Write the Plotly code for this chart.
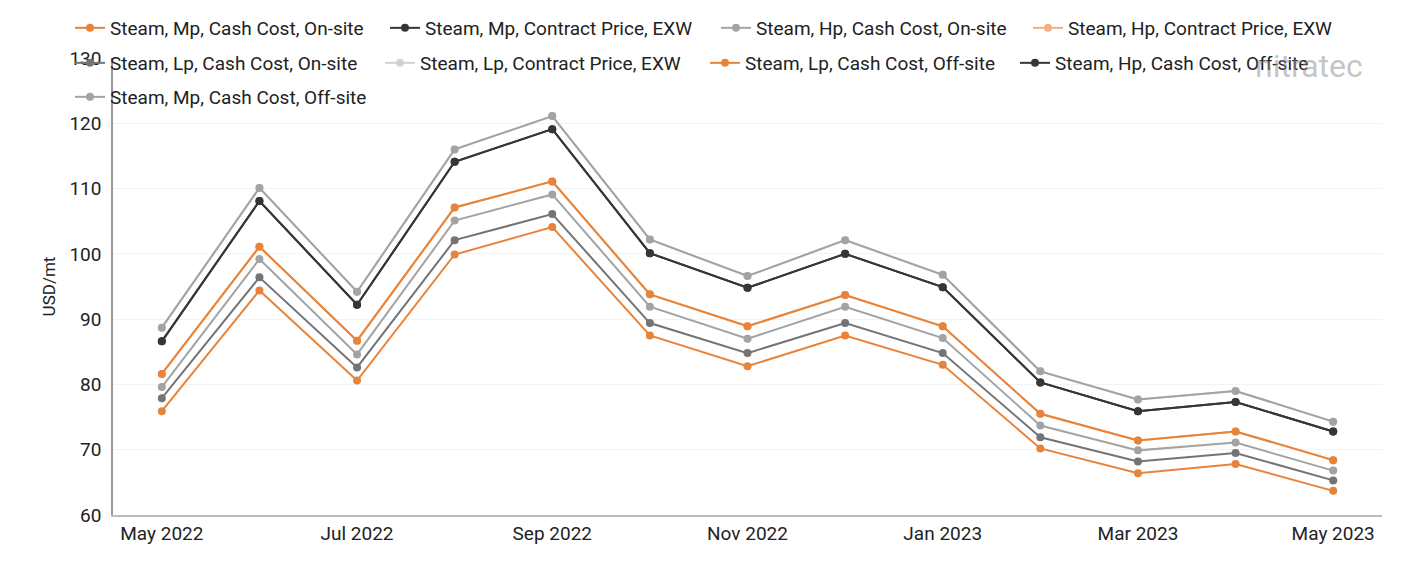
import plotly.graph_objects as go

months = ["May 2022", "Jun 2022", "Jul 2022", "Aug 2022", "Sep 2022", "Oct 2022",
          "Nov 2022", "Dec 2022", "Jan 2023", "Feb 2023", "Mar 2023", "Apr 2023", "May 2023"]
tick_labels = ["May 2022", "Jul 2022", "Sep 2022", "Nov 2022", "Jan 2023", "Mar 2023", "May 2023"]

mp_cash_onsite = [75.9, 94.4, 80.6, 99.9, 104.1, 87.5, 82.8, 87.5, 83.0, 70.2, 66.4, 67.8, 63.7]
mp_contract_exw = [86.6, 108.1, 92.2, 114.1, 119.1, 100.1, 94.8, 100.0, 94.9, 80.3, 75.9, 77.3, 72.8]
hp_cash_onsite = [79.6, 99.2, 84.6, 105.1, 109.1, 91.9, 87.0, 91.9, 87.1, 73.7, 69.9, 71.1, 66.8]
hp_contract_exw = [81.6, 101.1, 86.7, 107.1, 111.1, 93.8, 88.9, 93.7, 88.9, 75.5, 71.4, 72.8, 68.4]
lp_cash_onsite = [77.9, 96.4, 82.6, 102.1, 106.1, 89.4, 84.8, 89.4, 84.8, 71.9, 68.2, 69.5, 65.3]
lp_contract_exw = [88.7, 110.1, 94.2, 116.0, 121.1, 102.2, 96.6, 102.1, 96.8, 82.0, 77.7, 79.0, 74.3]
lp_cash_offsite = [81.6, 101.1, 86.7, 107.1, 111.1, 93.8, 88.9, 93.7, 88.9, 75.5, 71.4, 72.8, 68.4]
hp_cash_offsite = [86.6, 108.1, 92.2, 114.1, 119.1, 100.1, 94.8, 100.0, 94.9, 80.3, 75.9, 77.3, 72.8]
mp_cash_offsite = [88.7, 110.1, 94.2, 116.0, 121.1, 102.2, 96.6, 102.1, 96.8, 82.0, 77.7, 79.0, 74.3]

series_names = [
    "Steam, Mp, Cash Cost, On-site", "Steam, Mp, Contract Price, EXW",
    "Steam, Hp, Cash Cost, On-site", "Steam, Hp, Contract Price, EXW",
    "Steam, Lp, Cash Cost, On-site", "Steam, Lp, Contract Price, EXW",
    "Steam, Lp, Cash Cost, Off-site", "Steam, Hp, Cash Cost, Off-site",
    "Steam, Mp, Cash Cost, Off-site",
]
series_values = [mp_cash_onsite, mp_contract_exw, hp_cash_onsite, hp_contract_exw,
                 lp_cash_onsite, lp_contract_exw, lp_cash_offsite, hp_cash_offsite,
                 mp_cash_offsite]
colors = ["#E8833A", "#363636", "#A3A3A3", "#F2B184", "#747474", "#D3D3D3",
          "#E8833A", "#363636", "#A3A3A3"]

W, H = 1401, 561
# legend entry positions (text left x, row centre y) in pixels
legend_text_x = [110, 425, 756, 1068, 110, 420, 745, 1055, 110]
legend_row_y = [28, 28, 28, 28, 63, 63, 63, 63, 97]

fig = go.Figure()
legends = {}
for i, (name, vals, color) in enumerate(zip(series_names, series_values, colors)):
    key = "legend" if i == 0 else f"legend{i + 1}"
    fig.add_trace(go.Scatter(
        x=months, y=vals, name=name, mode="lines+markers",
        line=dict(color=color, width=2),
        marker=dict(color=color, size=8),
        legend=key, showlegend=True,
    ))
    legends[key] = dict(
        orientation="h", xref="container", yref="container",
        x=(legend_text_x[i] - 40) / W, y=1 - legend_row_y[i] / H,
        xanchor="left", yanchor="middle", bgcolor="rgba(0,0,0,0)",
        font=dict(family="Roboto", size=19, color="#222222"),
    )

fig.update_layout(
    width=W, height=H, showlegend=True,
    margin=dict(l=113, r=19, t=58, b=46, autoexpand=False),
    paper_bgcolor="white", plot_bgcolor="white",
    font=dict(family="Roboto", size=19, color="#222222"),
    xaxis=dict(
        type="category", range=[-0.5, 12.5],
        tickmode="array", tickvals=tick_labels, ticktext=tick_labels,
        showgrid=False, showline=True, linecolor="#BBBBBB", linewidth=1.5,
        ticks="", tickfont=dict(size=19, color="#222222"),
    ),
    yaxis=dict(
        range=[60, 130], dtick=10, tick0=60,
        showgrid=True, gridcolor="#F3F3F3", gridwidth=1,
        showline=True, linecolor="#999999", linewidth=1.5,
        ticks="", tickfont=dict(size=19, color="#222222"),
        ticklabelstandoff=6,
        title=dict(text="USD/mt", font=dict(size=17, color="#222222"), standoff=9),
        zeroline=False,
    ),
    annotations=[dict(
        text="nitratec", xref="paper", yref="paper",
        x=(1365 - 113) / 1269, y=1 - (66 - 58) / 457,
        xanchor="right", yanchor="middle", showarrow=False,
        font=dict(family="Roboto", size=32, color="rgba(140,140,140,0.5)"),
    )],
    **legends,
)

fig.write_html("out.html")
